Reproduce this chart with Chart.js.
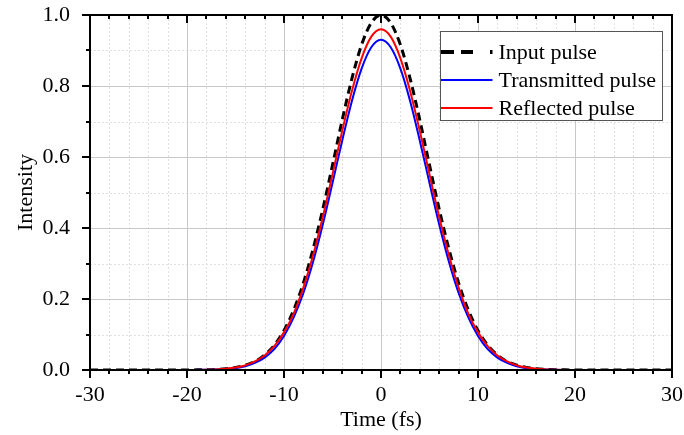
<!DOCTYPE html>
<html>
<head>
<meta charset="utf-8">
<script src="https://cdn.jsdelivr.net/npm/chart.js@4.4.0/dist/chart.umd.min.js"></script>
<style>
html,body{margin:0;padding:0;background:#ffffff;}
canvas{display:block;}
</style>
</head>
<body>
<canvas id="c" width="684" height="435"></canvas>
<script>
// ---- data ----
const timeFs = [-30,-29,-28,-27,-26,-25,-24,-23,-22,-21,
  -20,-19,-18,-17,-16,-15,-14,-13,-12,-11,
  -10,-9,-8,-7,-6,-5,-4,-3,-2,-1,
  0,
  1,2,3,4,5,6,7,8,9,10,
  11,12,13,14,15,16,17,18,19,20,
  21,22,23,24,25,26,27,28,29,30];

const inputPulse = [0,0,0,0,0,0,0,0,0,0,
  0.0002,0.0004,0.0008,0.0017,0.0036,0.0071,0.0135,0.024,0.042,0.070,
  0.111,0.169,0.245,0.341,0.453,0.577,0.704,0.821,0.916,0.978,
  1.000,
  0.978,0.916,0.821,0.704,0.577,0.453,0.341,0.245,0.169,0.111,
  0.070,0.042,0.024,0.0135,0.0071,0.0036,0.0017,0.0008,0.0004,0.0002,
  0,0,0,0,0,0,0,0,0,0];

const transmittedPulse = [0,0,0,0,0,0,0,0,0,0,
  0.0001,0.0003,0.0006,0.0013,0.0028,0.0056,0.0108,0.020,0.035,0.059,
  0.096,0.148,0.217,0.305,0.410,0.527,0.646,0.758,0.849,0.909,
  0.930,
  0.909,0.849,0.758,0.646,0.527,0.410,0.305,0.217,0.148,0.096,
  0.059,0.035,0.020,0.0108,0.0056,0.0028,0.0013,0.0006,0.0003,0.0001,
  0,0,0,0,0,0,0,0,0,0];

const reflectedPulse = [0,0,0,0,0,0,0,0,0,0,
  0.0001,0.0003,0.0007,0.0016,0.0034,0.0068,0.013,0.024,0.041,0.067,
  0.106,0.159,0.232,0.323,0.431,0.551,0.673,0.786,0.878,0.939,
  0.960,
  0.939,0.878,0.786,0.673,0.551,0.431,0.323,0.232,0.159,0.106,
  0.067,0.041,0.024,0.013,0.0068,0.0034,0.0016,0.0007,0.0003,0.0001,
  0,0,0,0,0,0,0,0,0,0];

const seriesNames = ['Input pulse', 'Transmitted pulse', 'Reflected pulse'];
const xMajorTicks = [-30,-20,-10,0,10,20,30];
const yMajorTicks = [0,0.2,0.4,0.6,0.8,1.0];
const xTitle = 'Time (fs)';
const yTitle = 'Intensity';

const FONT = '"Liberation Serif", "Times New Roman", serif';

function pts(ys){ return timeFs.map((t,i)=>({x:t, y:ys[i]})); }

const frame = {
  id: 'frame',
  beforeDatasetsDraw(chart) {
    const {ctx, chartArea: a, scales: {x, y}} = chart;
    ctx.save();
    ctx.lineWidth = 1;
    // minor grid (dotted)
    ctx.strokeStyle = '#e0e0e0';
    ctx.setLineDash([2,2]);
    ctx.beginPath();
    for (let v = -30; v <= 30; v += 2) {
      if (v % 10 === 0) continue;
      const px = Math.round(x.getPixelForValue(v)) + 0.5;
      ctx.moveTo(px, a.top); ctx.lineTo(px, a.bottom);
    }
    for (let i = 1; i < 10; i += 2) {
      const py = Math.round(y.getPixelForValue(i/10)) + 0.5;
      ctx.moveTo(a.left, py); ctx.lineTo(a.right, py);
    }
    ctx.stroke();
    // major grid (solid)
    ctx.setLineDash([]);
    ctx.strokeStyle = '#c8c8c8';
    ctx.beginPath();
    for (const v of xMajorTicks) {
      const px = Math.round(x.getPixelForValue(v)) + 0.5;
      ctx.moveTo(px, a.top); ctx.lineTo(px, a.bottom);
    }
    for (const v of yMajorTicks) {
      const py = Math.round(y.getPixelForValue(v)) + 0.5;
      ctx.moveTo(a.left, py); ctx.lineTo(a.right, py);
    }
    ctx.stroke();
    ctx.restore();
  },
  afterDatasetsDraw(chart) {
    const {ctx, chartArea: a, scales: {x, y}} = chart;
    ctx.save();
    ctx.strokeStyle = '#000';
    ctx.lineWidth = 2;
    ctx.setLineDash([]);
    // frame
    ctx.beginPath();
    ctx.moveTo(a.left, a.top); ctx.lineTo(a.right, a.top);
    ctx.lineTo(a.right, a.bottom); ctx.lineTo(a.left, a.bottom); ctx.closePath();
    ctx.stroke();
    // ticks
    ctx.lineWidth = 2;
    ctx.beginPath();
    for (let v = -30; v <= 30; v += 2) {
      const major = v % 10 === 0;
      const px = Math.round(x.getPixelForValue(v));
      const len = major ? 8 : 4;
      ctx.moveTo(px, a.bottom); ctx.lineTo(px, a.bottom + len);
      ctx.moveTo(px, a.top); ctx.lineTo(px, a.top + len);
    }
    for (let i = 0; i <= 10; i++) {
      const major = i % 2 === 0;
      const py = Math.round(y.getPixelForValue(i/10));
      const len = major ? 8 : 4;
      ctx.moveTo(a.left, py); ctx.lineTo(a.left - len, py);
    }
    ctx.stroke();
    ctx.restore();
  },
  afterDraw(chart) {
    const {ctx, chartArea: a} = chart;
    const ds = chart.data.datasets;
    ctx.save();
    const bx = Math.round(a.right - 232) + 0.5, by = Math.round(a.top + 16) + 0.5;
    const bw = 222, bh = 89;
    ctx.fillStyle = '#ffffff';
    ctx.fillRect(bx, by, bw, bh);
    ctx.strokeStyle = '#555555';
    ctx.lineWidth = 1;
    ctx.strokeRect(bx, by, bw, bh);
    const rows = [20.5, 48.5, 76.5];
    ds.forEach((d, i) => {
      const ly = by + rows[i];
      ctx.beginPath();
      ctx.strokeStyle = d.borderColor;
      ctx.lineWidth = i === 0 ? 4 : 2;
      ctx.setLineDash(i === 0 ? [13, 7, 12, 17, 3, 200] : []);
      ctx.moveTo(bx + 0.5, ly); ctx.lineTo(bx + 52, ly);
      ctx.stroke();
      ctx.setLineDash([]);
      ctx.fillStyle = '#000';
      ctx.font = '22px ' + FONT;
      ctx.textBaseline = 'middle';
      ctx.textAlign = 'left';
      ctx.fillText(d.label, bx + 58, ly + 1);
    });
    ctx.restore();
  }
};

new Chart(document.getElementById('c'), {
  type: 'line',
  data: {
    datasets: [
      { label: seriesNames[0], data: pts(inputPulse), borderColor: '#000000', borderWidth: 3,
        borderDash: [8, 5], order: 3 },
      { label: seriesNames[1], data: pts(transmittedPulse), borderColor: '#0000ff', borderWidth: 2, order: 2 },
      { label: seriesNames[2], data: pts(reflectedPulse), borderColor: '#ff0000', borderWidth: 2, order: 1 }
    ]
  },
  options: {
    responsive: false,
    animation: false,
    devicePixelRatio: 1,
    layout: { padding: { left: 0, top: 15, right: 12, bottom: 0 } },
    elements: { point: { radius: 0 }, line: { cubicInterpolationMode: 'monotone', fill: false } },
    plugins: { legend: { display: false }, tooltip: { enabled: false } },
    scales: {
      x: {
        type: 'linear', min: -30, max: 30,
        grid: { display: false }, border: { display: false },
        ticks: { stepSize: 10, color: '#000', padding: 4, font: { family: FONT, size: 22 } },
        title: { display: true, text: xTitle, color: '#000', padding: { top: 0, bottom: 2 }, font: { family: FONT, size: 22 } },
        afterFit(s) { s.height = 65; s.paddingLeft = 0; s.paddingRight = 0; }
      },
      y: {
        type: 'linear', min: 0, max: 1,
        grid: { display: false }, border: { display: false },
        ticks: { stepSize: 0.2, color: '#000', padding: 12, font: { family: FONT, size: 22 },
          callback: v => Number(v).toFixed(1) },
        title: { display: true, text: yTitle, color: '#000', padding: { top: 13, bottom: 0 }, font: { family: FONT, size: 22 } },
        afterFit(s) { s.width = 90; s.paddingTop = 0; s.paddingBottom = 0; }
      }
    }
  },
  plugins: [frame]
});
</script>
</body>
</html>
